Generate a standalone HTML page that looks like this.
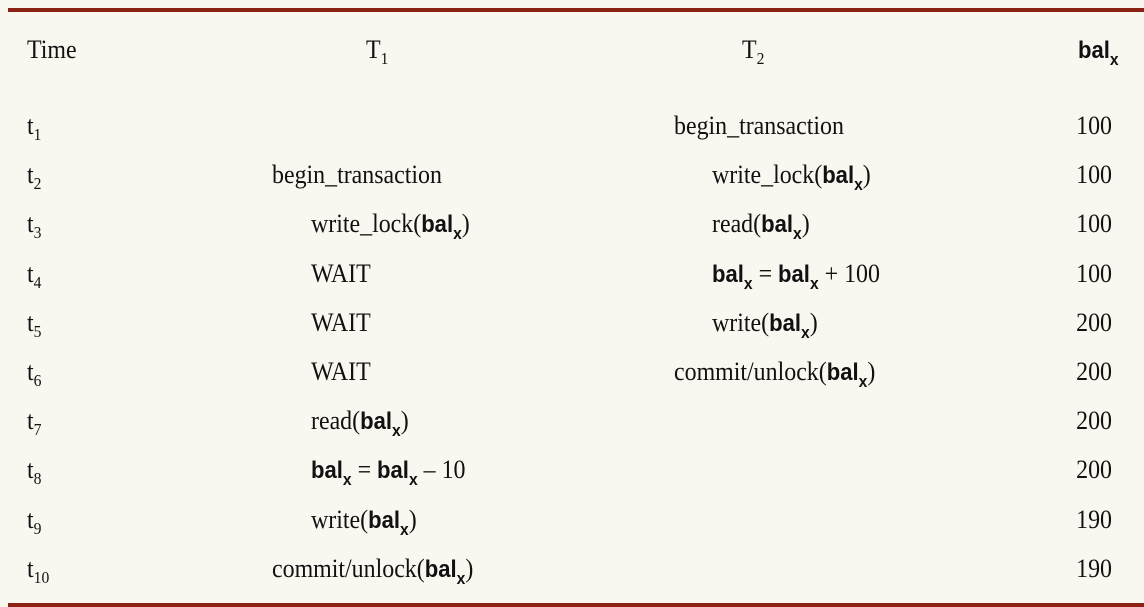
<!DOCTYPE html>
<html><head><meta charset="utf-8"><style>
html,body{margin:0;padding:0;background:#faf7f1;}
svg{display:block}
.s{font-family:"Liberation Serif",serif;font-size:26px;fill:#111}
.b{font-family:"Liberation Sans",sans-serif;font-weight:bold;font-size:24px}
.bx{font-family:"Liberation Sans",sans-serif;font-weight:bold;font-size:17px}
.sub{font-size:17px}
</style></head><body>
<svg width="1144" height="607" viewBox="0 0 1144 607" xmlns="http://www.w3.org/2000/svg">
<rect x="0" y="0" width="1144" height="607" fill="#faf7f1"/>
<rect x="8" y="8" width="1136" height="4" fill="#8b2315"/>
<rect x="8" y="603" width="1136" height="4" fill="#8b2315"/>
<g class="s">
<text transform="translate(27,58) scale(0.92,1)">Time</text>
<text transform="translate(366,58) scale(0.92,1)">T<tspan class="sub" dy="6">1</tspan></text>
<text transform="translate(742,58) scale(0.92,1)">T<tspan class="sub" dy="6">2</tspan></text>
<text transform="translate(1078,58) scale(0.92,1)"><tspan class="b">bal</tspan><tspan class="bx" dy="7">x</tspan></text>

<!-- time column -->
<text transform="translate(27,134) scale(0.92,1)">t<tspan class="sub" dy="6">1</tspan></text>
<text transform="translate(27,183) scale(0.92,1)">t<tspan class="sub" dy="6">2</tspan></text>
<text transform="translate(27,232) scale(0.92,1)">t<tspan class="sub" dy="6">3</tspan></text>
<text transform="translate(27,282) scale(0.92,1)">t<tspan class="sub" dy="6">4</tspan></text>
<text transform="translate(27,331) scale(0.92,1)">t<tspan class="sub" dy="6">5</tspan></text>
<text transform="translate(27,380) scale(0.92,1)">t<tspan class="sub" dy="6">6</tspan></text>
<text transform="translate(27,429) scale(0.92,1)">t<tspan class="sub" dy="6">7</tspan></text>
<text transform="translate(27,478) scale(0.92,1)">t<tspan class="sub" dy="6">8</tspan></text>
<text transform="translate(27,528) scale(0.92,1)">t<tspan class="sub" dy="6">9</tspan></text>
<text transform="translate(27,577) scale(0.92,1)">t<tspan class="sub" dy="6">10</tspan></text>

<!-- T1 -->
<text transform="translate(272,183) scale(0.92,1)">begin_transaction</text>
<text transform="translate(311,232) scale(0.92,1)">write_lock(<tspan class="b">bal</tspan><tspan class="bx" dy="7">x</tspan><tspan dy="-7">)</tspan></text>
<text transform="translate(311,282) scale(0.92,1)">WAIT</text>
<text transform="translate(311,331) scale(0.92,1)">WAIT</text>
<text transform="translate(311,380) scale(0.92,1)">WAIT</text>
<text transform="translate(311,429) scale(0.92,1)">read(<tspan class="b">bal</tspan><tspan class="bx" dy="7">x</tspan><tspan dy="-7">)</tspan></text>
<text transform="translate(311,478) scale(0.92,1)"><tspan class="b">bal</tspan><tspan class="bx" dy="7">x</tspan><tspan dy="-7"> = </tspan><tspan class="b">bal</tspan><tspan class="bx" dy="7">x</tspan><tspan dy="-7"> – 10</tspan></text>
<text transform="translate(311,528) scale(0.92,1)">write(<tspan class="b">bal</tspan><tspan class="bx" dy="7">x</tspan><tspan dy="-7">)</tspan></text>
<text transform="translate(272,577) scale(0.92,1)">commit/unlock(<tspan class="b">bal</tspan><tspan class="bx" dy="7">x</tspan><tspan dy="-7">)</tspan></text>

<!-- T2 -->
<text transform="translate(674,134) scale(0.92,1)">begin_transaction</text>
<text transform="translate(712,183) scale(0.92,1)">write_lock(<tspan class="b">bal</tspan><tspan class="bx" dy="7">x</tspan><tspan dy="-7">)</tspan></text>
<text transform="translate(712,232) scale(0.92,1)">read(<tspan class="b">bal</tspan><tspan class="bx" dy="7">x</tspan><tspan dy="-7">)</tspan></text>
<text transform="translate(712,282) scale(0.92,1)"><tspan class="b">bal</tspan><tspan class="bx" dy="7">x</tspan><tspan dy="-7"> = </tspan><tspan class="b">bal</tspan><tspan class="bx" dy="7">x</tspan><tspan dy="-7"> + 100</tspan></text>
<text transform="translate(712,331) scale(0.92,1)">write(<tspan class="b">bal</tspan><tspan class="bx" dy="7">x</tspan><tspan dy="-7">)</tspan></text>
<text transform="translate(674,380) scale(0.92,1)">commit/unlock(<tspan class="b">bal</tspan><tspan class="bx" dy="7">x</tspan><tspan dy="-7">)</tspan></text>

<!-- values -->
<g text-anchor="end">
<text transform="translate(1112,134) scale(0.92,1)">100</text>
<text transform="translate(1112,183) scale(0.92,1)">100</text>
<text transform="translate(1112,232) scale(0.92,1)">100</text>
<text transform="translate(1112,282) scale(0.92,1)">100</text>
<text transform="translate(1112,331) scale(0.92,1)">200</text>
<text transform="translate(1112,380) scale(0.92,1)">200</text>
<text transform="translate(1112,429) scale(0.92,1)">200</text>
<text transform="translate(1112,478) scale(0.92,1)">200</text>
<text transform="translate(1112,528) scale(0.92,1)">190</text>
<text transform="translate(1112,577) scale(0.92,1)">190</text>
</g>
</g>
</svg>
</body></html>
